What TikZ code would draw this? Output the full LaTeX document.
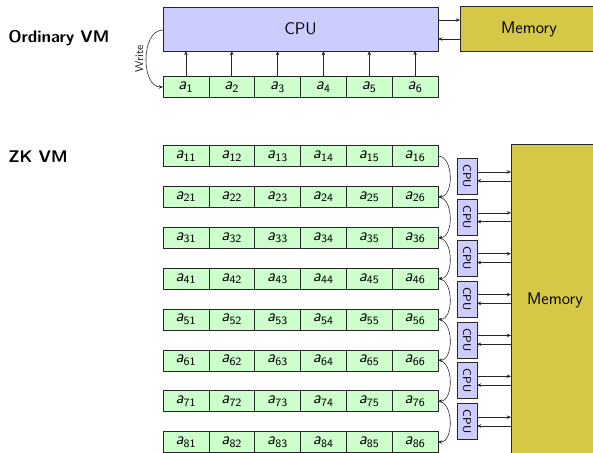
\documentclass[tikz,border=0pt]{standalone}
\usepackage{tikz}
\usetikzlibrary{positioning,arrows.meta}
\renewcommand{\familydefault}{\sfdefault}

\definecolor{cpublue}{RGB}{204,204,255}
\definecolor{memyellow}{RGB}{212,200,70}
\definecolor{cellgreen}{RGB}{204,255,204}

\newcommand{\av}[1]{\textsl{a}\textsubscript{#1}}

\tikzset{
  title/.style={font=\large\bfseries, anchor=west, inner sep=0pt},
  cell/.style={draw=black!85, fill=cellgreen, minimum width=1.146cm, minimum height=0.525cm, inner sep=0pt, outer sep=0pt, font=\large},
  bigcpu/.style={draw=black!85, fill=cpublue, minimum width=6.875cm, minimum height=1.1cm, font=\large, outer sep=0pt},
  memory/.style={draw=black!85, fill=memyellow, font=\large, outer sep=0pt},
  smallcpu/.style={draw=black!85, fill=cpublue, minimum width=0.5cm, minimum height=0.9cm, inner sep=0pt, font=\footnotesize, outer sep=0pt},
  link/.style={->, >={Stealth[length=3pt,width=2.5pt]}, black!85}
}

\begin{document}
\begin{tikzpicture}[x=0.025cm, y=-0.025cm]
\useasboundingbox (0,0) rectangle (593,453);
\clip (0,0) rectangle (593,453);

% ordinary VM
\node[title] (ordtitle) at (8,38) {Ordinary VM};
\node[bigcpu] (cpu) at (300.5,29) {CPU};
\node[memory, minimum width=3.45cm, minimum height=1.125cm] (mem) at (529,29) {Memory};

\draw[link] ([yshift=0.225cm]cpu.east) -- ([yshift=0.225cm]mem.west);
\draw[link] ([yshift=-0.25cm]mem.west) -- ([yshift=-0.25cm]cpu.east);

\foreach \k in {1,...,6} {
  \node[cell] (c\k) at ({163+45.83*(\k-0.5)},87) {\av{\k}};
  \draw[link] (c\k.north) -- (c\k.north |- cpu.south);
}

\draw[link] ([yshift=-0.025cm]cpu.west) to[out=180,in=180]
  node[rotate=90, anchor=south, font=\footnotesize, inner sep=2pt] (writelbl) {Write} (c1.west);

% ZK VM
\node[title] (zktitle) at (8,157) {ZK VM};
\node[memory, minimum width=2.2cm, minimum height=7.8cm] (zkmem) at (555,300) {Memory};

\foreach \r in {1,...,8}
  \foreach \k in {1,...,6}
    \node[cell] (z\r\k) at ({163+45.83*(\k-0.5)},{156+40.86*(\r-1)}) {\av{\r\k}};

\foreach \r [evaluate=\r as \s using int(\r+1)] in {1,...,7} {
  \draw[link] (z\r6.east) to[out=0,in=0] (z\s6.east);
  \node[smallcpu] (p\r) at (467,{176.4+40.86*(\r-1)}) {\rotatebox{-90}{CPU}};
  \draw[link] ([yshift=0.11cm]p\r.east) -- ([yshift=0.11cm]p\r.east -| zkmem.west);
  \draw[link] ([yshift=-0.11cm]p\r.east -| zkmem.west) -- ([yshift=-0.11cm]p\r.east);
}

\end{tikzpicture}
\end{document}
